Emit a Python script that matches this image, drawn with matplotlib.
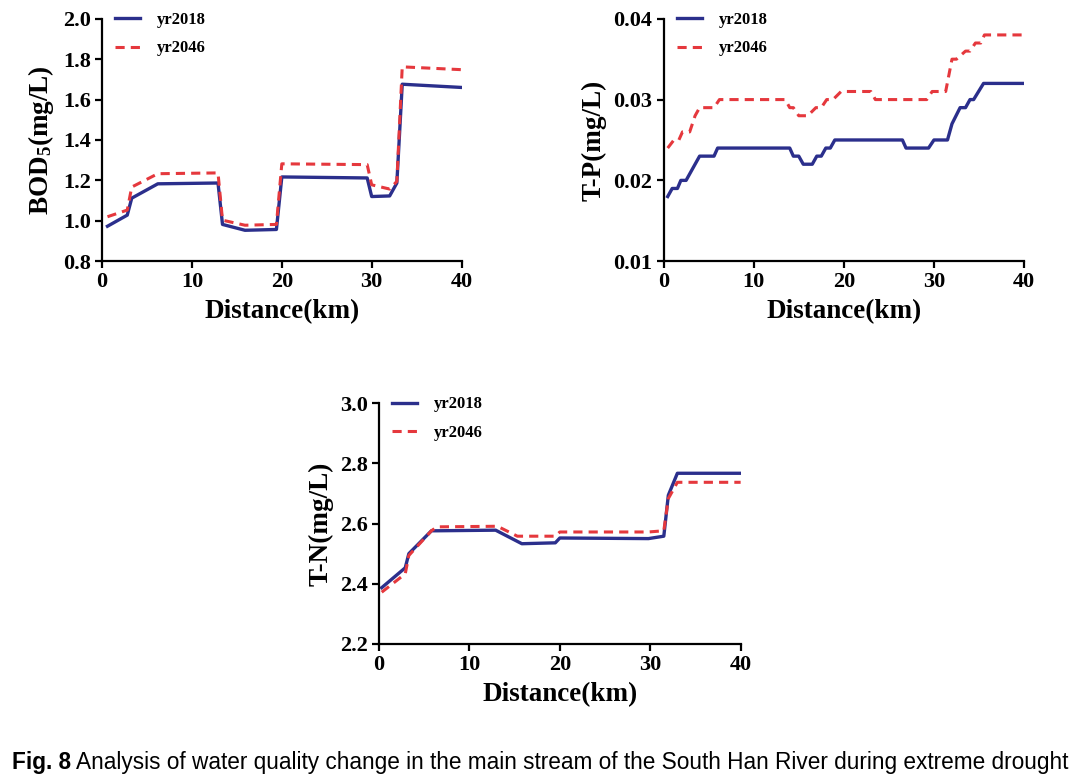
import matplotlib
matplotlib.use('Agg')
import matplotlib.pyplot as plt
import numpy as np

plt.rcParams['font.family'] = 'Liberation Serif'
plt.rcParams['font.weight'] = 'bold'
plt.rcParams['axes.labelweight'] = 'bold'
plt.rcParams['mathtext.fontset'] = 'custom'
plt.rcParams['mathtext.rm'] = 'Liberation Serif:bold'
plt.rcParams['mathtext.it'] = 'Liberation Serif:bold'
plt.rcParams['mathtext.bf'] = 'Liberation Serif:bold'

BLUE = '#2b2f8c'
RED = '#e5383d'

# BOD5
bod_x18 = [0.6, 2.8, 3.3, 6.2, 12.9, 13.4, 15.9, 19.4, 20.0, 29.5, 30.0, 32.0, 32.8, 33.4, 40.0]
bod_18 = [0.973, 1.028, 1.112, 1.183, 1.187, 0.982, 0.953, 0.957, 1.217, 1.212, 1.120, 1.123, 1.187, 1.676, 1.660]
bod_x46 = [0.6, 2.8, 3.3, 6.2, 12.9, 13.4, 15.9, 19.4, 20.0, 29.5, 30.0, 32.0, 32.8, 33.4, 40.0]
bod_46 = [1.020, 1.053, 1.167, 1.233, 1.237, 1.003, 0.978, 0.982, 1.282, 1.278, 1.178, 1.157, 1.195, 1.762, 1.748]

# T-P
tp_x18 = [0.46, 0.96, 1.54, 1.92, 2.5, 4.0, 5.6, 6.0, 14.0, 14.4, 15.0, 15.5, 16.5, 17.0, 17.5,
          18.0, 18.5, 19.0, 26.5, 26.9, 29.4, 30.0, 31.5, 32.0, 32.9, 33.5, 34.0, 34.4, 35.5, 40.0]
tp_18 = [0.018, 0.019, 0.019, 0.020, 0.020, 0.023, 0.023, 0.024, 0.024, 0.023, 0.023, 0.022, 0.022, 0.023, 0.023,
         0.024, 0.024, 0.025, 0.025, 0.024, 0.024, 0.025, 0.025, 0.027, 0.029, 0.029, 0.030, 0.030, 0.032, 0.032]
tp_x46 = [0.46, 1.15, 1.7, 2.1, 2.9, 3.5, 4.0, 5.6, 6.2, 13.5, 14.0, 14.4, 15.0, 16.0, 16.9, 17.5,
          18.1, 18.8, 19.7, 23.0, 23.5, 29.2, 29.8, 31.3, 32.0, 32.5, 33.5, 34.0, 34.6, 35.2, 35.6, 40.0]
tp_46 = [0.024, 0.025, 0.025, 0.026, 0.026, 0.028, 0.029, 0.029, 0.030, 0.030, 0.029, 0.029, 0.028, 0.028, 0.029, 0.029,
         0.030, 0.030, 0.031, 0.031, 0.030, 0.030, 0.031, 0.031, 0.035, 0.035, 0.036, 0.036, 0.037, 0.037, 0.038, 0.038]

# T-N
tn_x18 = [0.3, 2.9, 3.3, 5.8, 6.4, 12.9, 15.8, 19.5, 20.0, 29.8, 31.5, 32.0, 33.0, 40.0]
tn_18 = [2.387, 2.453, 2.500, 2.576, 2.576, 2.578, 2.533, 2.536, 2.552, 2.550, 2.558, 2.694, 2.767, 2.767]
tn_x46 = [0.3, 2.9, 3.3, 5.8, 6.4, 13.1, 15.3, 19.5, 20.0, 29.8, 31.5, 32.0, 33.0, 40.0]
tn_46 = [2.372, 2.433, 2.494, 2.576, 2.589, 2.591, 2.558, 2.558, 2.572, 2.572, 2.576, 2.683, 2.737, 2.737]

x_ticks = [0, 10, 20, 30, 40]

fig = plt.figure(figsize=(10.86, 7.82), dpi=100)


def panel(rect, x18, y18, x46, y46, ylim, yticks, ylabel, fmt):
    ax = fig.add_axes(rect)
    ax.plot(x18, y18, color=BLUE, lw=2.4, label='yr2018')
    ax.plot(x46, y46, color=RED, lw=2.2, ls=(0, (3, 2)), label='yr2046')
    ax.set_xlim(0, 40)
    ax.set_ylim(*ylim)
    ax.set_xticks(x_ticks)
    ax.set_yticks(yticks)
    ax.set_yticklabels([fmt.format(v) for v in yticks])
    for s in ['top', 'right']:
        ax.spines[s].set_visible(False)
    for s in ['left', 'bottom']:
        ax.spines[s].set_linewidth(1.6)
    ax.tick_params(width=1.6, length=5, labelsize=16, pad=3)
    ax.set_xlabel('Distance(km)', fontsize=19.5, labelpad=5)
    ax.set_ylabel(ylabel, fontsize=19.5, labelpad=5)
    ax.legend(loc='upper left', bbox_to_anchor=(-0.005, 1.09), frameon=False,
              prop={'size': 12, 'weight': 'bold'}, handlelength=1.5,
              labelspacing=0.75, handletextpad=1.0)
    return ax


panel([0.094, 0.666, 0.331, 0.310], bod_x18, bod_18, bod_x46, bod_46,
      (0.8, 2.0), [0.8, 1.0, 1.2, 1.4, 1.6, 1.8, 2.0], r'BOD$_5$(mg/L)', '{:.1f}')
panel([0.611, 0.666, 0.332, 0.310], tp_x18, tp_18, tp_x46, tp_46,
      (0.01, 0.04), [0.01, 0.02, 0.03, 0.04], 'T-P(mg/L)', '{:.2f}')
panel([0.349, 0.1765, 0.333, 0.308], tn_x18, tn_18, tn_x46, tn_46,
      (2.2, 3.0), [2.2, 2.4, 2.6, 2.8, 3.0], 'T-N(mg/L)', '{:.1f}')

# caption
fs = 15
t1 = fig.text(12 / 1086, 1 - 763 / 782, 'Fig. 8', family='Liberation Sans', weight='bold',
              fontsize=fs, va='center', ha='left')
t2 = fig.text(0, 0, ' Analysis of water quality change in the main stream of the South Han River during extreme drought',
              family='Liberation Sans', weight='normal', fontsize=fs, va='center', ha='left')
r = fig.canvas.get_renderer()
w = t1.get_window_extent(r).width + t2.get_window_extent(r).width
scale = (1070 - 12) / w
t1.set_fontsize(fs * scale)
t2.set_fontsize(fs * scale)
w1 = t1.get_window_extent(r).width
t2.set_position((12 / 1086 + w1 / 1086, 1 - 763 / 782))

fig.savefig('out.png', dpi=100)
